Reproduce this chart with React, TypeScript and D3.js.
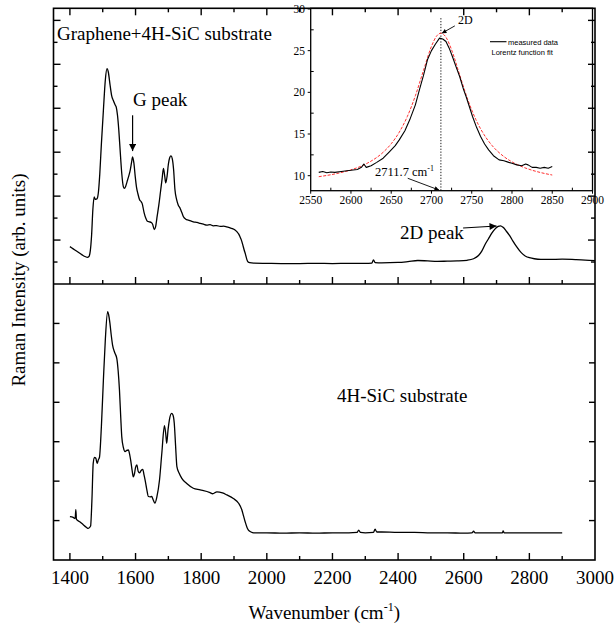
import React from "react";
import * as d3 from "d3";

// ---------- data ----------
// Upper spectrum: Graphene + 4H-SiC substrate
const topWavenumber = [
  1400, 1410, 1420, 1430, 1440, 1448, 1453, 1458, 1462, 1466, 1470, 1474, 1477, 1480, 1483, 1487,
  1491, 1496, 1502, 1508, 1513, 1517, 1522, 1527, 1532, 1538, 1541, 1545, 1549, 1553, 1558, 1563,
  1566, 1570, 1574, 1579, 1584, 1588, 1591, 1595, 1599, 1603, 1607, 1612, 1617, 1620, 1626, 1631,
  1636, 1642, 1648, 1652, 1657, 1661, 1666, 1671, 1676, 1681, 1685, 1689, 1692, 1696, 1700, 1704,
  1708, 1712, 1716, 1720, 1725, 1730, 1736, 1741, 1746, 1753, 1761, 1770, 1776, 1787, 1797, 1807,
  1817, 1827, 1837, 1847, 1858, 1868, 1878, 1888, 1895, 1904, 1910, 1914, 1918, 1922, 1927, 1931,
  1935, 1939, 1943, 1948, 1960, 2000, 2050, 2100, 2150, 2200, 2250, 2300, 2320, 2325, 2330, 2350,
  2400, 2430, 2460, 2490, 2520, 2550, 2580, 2610, 2630, 2645, 2655, 2665, 2675, 2685, 2695, 2705,
  2712, 2720, 2730, 2740, 2750, 2760, 2770, 2780, 2790, 2800, 2815, 2835, 2860, 2900, 2940, 2970,
  3000,
];
const topIntensity = [
  1.7, 1.6, 1.5, 1.4, 1.3, 1.24, 1.21, 1.25, 1.5, 2.2, 3.4, 3.97, 3.85, 3.86, 3.89, 4.2,
  5.0, 6.4, 7.9, 9.3, 9.8, 9.65, 9.1, 8.59, 8.36, 8.15, 8.06, 7.68, 7.0, 6.1, 5.03, 4.42,
  4.35, 4.45, 4.65, 4.9, 5.2, 5.55, 5.79, 5.5, 4.9, 4.4, 4.12, 3.85, 3.75, 3.67, 3.25, 3.0,
  2.86, 2.83, 2.8, 2.72, 2.48, 2.6, 3.1, 3.6, 4.2, 4.8, 5.26, 4.9, 4.6, 4.9, 5.45, 5.75,
  5.83, 5.7, 5.2, 4.3, 3.85, 3.6, 3.44, 3.25, 3.06, 2.95, 2.91, 2.86, 2.83, 2.8, 2.76, 2.72,
  2.68, 2.7, 2.65, 2.66, 2.62, 2.63, 2.6, 2.56, 2.52, 2.45, 2.36, 2.28, 2.16, 2.02, 1.77, 1.55,
  1.35, 1.12, 1.0, 0.97, 0.95, 0.94, 0.93, 0.93, 0.94, 0.93, 0.94, 0.94, 0.95, 1.1, 0.97, 0.96,
  0.98, 1.02, 1.07, 1.05, 1.03, 1.04, 1.05, 1.08, 1.15, 1.3, 1.5, 1.8, 2.05, 2.3, 2.5, 2.62,
  2.65, 2.58, 2.4, 2.2, 1.95, 1.72, 1.52, 1.36, 1.25, 1.2, 1.15, 1.12, 1.12, 1.13, 1.11, 1.09,
  1.06,
];

// Lower spectrum: 4H-SiC substrate
const botWavenumber = [
  1400, 1410, 1416, 1418, 1420, 1430, 1440, 1450, 1456, 1463, 1467, 1471, 1475, 1479, 1483, 1487,
  1490, 1496, 1502, 1508, 1515, 1518, 1522, 1526, 1530, 1537, 1543, 1547, 1551, 1555, 1558, 1563,
  1568, 1573, 1578, 1582, 1585, 1590, 1593, 1597, 1600, 1604, 1608, 1612, 1617, 1622, 1626, 1629,
  1634, 1639, 1645, 1649, 1654, 1659, 1665, 1673, 1680, 1688, 1692, 1695, 1699, 1703, 1710, 1714,
  1718, 1722, 1726, 1733, 1741, 1756, 1776, 1797, 1827, 1835, 1848, 1865, 1878, 1898, 1914, 1924,
  1929, 1934, 1940, 1944, 1952, 1960, 2000, 2050, 2100, 2150, 2200, 2250, 2275, 2280, 2285, 2300,
  2325, 2330, 2335, 2350, 2400, 2450, 2500, 2550, 2600, 2625, 2630, 2635, 2700, 2718, 2720, 2723,
  2800, 2850, 2900,
];
const botIntensity = [
  1.1, 1.08, 1.05, 1.28, 1.03, 0.97, 0.9, 0.83, 0.8, 0.86, 1.5, 2.45, 2.6, 2.58, 2.45, 2.55,
  2.6, 3.4, 4.56, 5.6, 6.3, 6.22, 6.0, 5.7, 5.45, 5.25, 5.11, 4.8, 4.31, 3.6, 3.13, 2.85,
  2.75, 2.78, 2.79, 2.68, 2.54, 2.25, 2.11, 2.2, 2.35, 2.41, 2.25, 2.21, 2.27, 2.3, 2.15, 2.03,
  1.8, 1.61, 1.6, 1.61, 1.52, 1.44, 1.6, 2.03, 2.7, 3.41, 3.2, 2.96, 3.3, 3.55, 3.72, 3.68,
  3.47, 2.9, 2.37, 2.2, 2.07, 1.94, 1.82, 1.78, 1.71, 1.68, 1.73, 1.7, 1.65, 1.56, 1.44, 1.27,
  1.12, 0.97, 0.82, 0.76, 0.71, 0.69, 0.69, 0.68, 0.69, 0.68, 0.69, 0.69, 0.7, 0.76, 0.7, 0.69,
  0.7, 0.78, 0.71, 0.71, 0.7, 0.7, 0.69, 0.69, 0.68, 0.69, 0.73, 0.69, 0.69, 0.69, 0.74, 0.69,
  0.69, 0.69, 0.69,
];

// Inset: measured 2D band
const insetMeasX = [
  2560, 2565, 2570, 2575, 2580, 2588, 2595, 2600, 2608, 2613, 2616, 2619, 2625, 2632, 2640, 2648,
  2655, 2660, 2667, 2673, 2680, 2685, 2690, 2695, 2700, 2705, 2710, 2714, 2718, 2722, 2726, 2730,
  2735, 2740, 2743, 2747, 2751, 2756, 2761, 2766, 2771, 2777, 2784, 2790, 2796, 2800, 2806, 2812,
  2817, 2820, 2825, 2830, 2835, 2840, 2845, 2850,
];
const insetMeasY = [
  10.4, 10.5, 10.35, 10.45, 10.4, 10.5, 10.6, 10.65, 10.75, 11.0, 11.4, 11.0, 11.2, 11.6, 12.1, 12.9,
  13.6, 14.3, 15.4, 16.7, 18.5, 20.3, 22.0, 23.9, 25.0, 25.8, 26.5, 26.4, 26.1, 25.3, 24.3, 23.2,
  21.9, 20.3, 19.5, 18.3, 17.1, 15.8, 14.7, 13.8, 13.1, 12.4, 11.9, 11.8, 11.6, 11.5, 11.3, 11.2,
  11.4, 11.3, 11.0, 11.0, 10.9, 11.0, 10.9, 11.1,
];
// Inset: Lorentz function fit (red dashed)
const insetFitX = [
  2560, 2580, 2600, 2620, 2640, 2650, 2660, 2670, 2680, 2690, 2700, 2706, 2712, 2718, 2725, 2735,
  2745, 2755, 2765, 2775, 2790, 2805, 2820, 2835, 2850,
];
const insetFitY = [
  9.88, 10.21, 10.7, 11.48, 12.81, 13.83, 15.22, 17.1, 19.59, 22.6, 25.52, 26.7, 27.1, 26.61, 25.1, 22.1,
  19.15, 16.76, 14.97, 13.65, 12.29, 11.4, 10.81, 10.39, 10.08,
];

const xTickLabels = [1400, 1600, 1800, 2000, 2200, 2400, 2600, 2800, 3000];
const insetXTickLabels = [2550, 2600, 2650, 2700, 2750, 2800, 2850, 2900];
const insetYTickLabels = [10, 15, 20, 25, 30];
const peakPosition = 2711.7;

// ---------- component ----------
const SERIF = "'Liberation Serif', 'Times New Roman', Times, serif";
const SANS = "'Liberation Sans', Arial, Helvetica, sans-serif";

export default function App() {
  const W = 614;
  const H = 627;
  const L = 53.5, R = 595, T = 8.3, M = 284, B = 560;

  const x = d3.scaleLinear().domain([1350, 3000]).range([L, R]);
  const yTop = d3.scaleLinear().domain([0, 12.55]).range([M, T]);
  const yBot = d3.scaleLinear().domain([0, 7]).range([B, M]);

  // inset frame
  const iL = 310.7, iR = 592.5, iT = 8.3, iB = 190.7;
  const ix = d3.scaleLinear().domain([2550, 2900]).range([iL, iR]);
  const iy = d3.scaleLinear().domain([8.2, 30.08]).range([iB, iT]);

  const topLine = d3
    .line<number>()
    .x((_, i) => x(topWavenumber[i]))
    .y((d) => yTop(d))
    .curve(d3.curveMonotoneX)(topIntensity) as string;
  const botLine = d3
    .line<number>()
    .x((_, i) => x(botWavenumber[i]))
    .y((d) => yBot(d))
    .curve(d3.curveMonotoneX)(botIntensity) as string;
  const measLine = d3
    .line<number>()
    .x((_, i) => ix(insetMeasX[i]))
    .y((d) => iy(d))
    .curve(d3.curveLinear)(insetMeasY) as string;
  const fitLine = d3
    .line<number>()
    .x((_, i) => ix(insetFitX[i]))
    .y((d) => iy(d))
    .curve(d3.curveMonotoneX)(insetFitY) as string;

  const xTicks = d3.range(1400, 3000, 100);
  const topYTicks = d3.range(1, 13);
  const botYTicks = d3.range(1, 7);
  const insetXMinor = d3.range(2575, 2900, 50);
  const insetYMinor = [12.5, 17.5, 22.5, 27.5];

  const tickLen = (major: boolean) => (major ? 7 : 4);

  return (
    <svg
      width={W}
      height={H}
      viewBox={`0 0 ${W} ${H}`}
      style={{ position: "absolute", left: 0, top: 0, background: "#fff" }}
    >
      <defs>
        <marker id="ahBig" viewBox="0 0 10 10" refX="10" refY="5" markerWidth="9" markerHeight="7"
          markerUnits="userSpaceOnUse" orient="auto">
          <path d="M0,0 L10,5 L0,10 z" fill="#000" />
        </marker>
        <marker id="ahSmall" viewBox="0 0 10 10" refX="10" refY="5" markerWidth="6" markerHeight="4.5"
          markerUnits="userSpaceOnUse" orient="auto">
          <path d="M0,0 L10,5 L0,10 z" fill="#000" />
        </marker>
      </defs>
      <rect x={0} y={0} width={W} height={H} fill="#fff" />

      {/* spectra */}
      <path d={topLine} fill="none" stroke="#000" strokeWidth={1.3} strokeLinejoin="round" />
      <path d={botLine} fill="none" stroke="#000" strokeWidth={1.3} strokeLinejoin="round" />

      {/* main frame */}
      <rect x={L} y={T} width={R - L} height={B - T} fill="none" stroke="#000" strokeWidth={1.6} />
      <line x1={L} x2={R} y1={M} y2={M} stroke="#000" strokeWidth={1.6} />

      {/* x ticks: top edge (down), divider (up), bottom (up) */}
      {xTicks.map((v) => {
        const major = (v - 1400) % 200 === 0;
        const len = tickLen(major);
        return (
          <g key={"xt" + v} stroke="#000" strokeWidth={1.4}>
            <line x1={x(v)} x2={x(v)} y1={T} y2={T + len} />
            <line x1={x(v)} x2={x(v)} y1={M} y2={M - len} />
            <line x1={x(v)} x2={x(v)} y1={B} y2={B - len} />
          </g>
        );
      })}

      {/* y ticks upper panel */}
      {topYTicks.map((k) => {
        const len = tickLen(k % 2 === 0);
        const yy = yTop(k);
        return (
          <g key={"ty" + k} stroke="#000" strokeWidth={1.4}>
            <line x1={L} x2={L + len} y1={yy} y2={yy} />
            <line x1={R} x2={R - len} y1={yy} y2={yy} />
          </g>
        );
      })}
      {/* y ticks lower panel */}
      {botYTicks.map((k) => {
        const yy = yBot(k);
        return (
          <g key={"by" + k} stroke="#000" strokeWidth={1.4}>
            <line x1={L} x2={L + 6} y1={yy} y2={yy} />
            <line x1={R} x2={R - 6} y1={yy} y2={yy} />
          </g>
        );
      })}

      {/* x tick labels */}
      {xTickLabels.map((v) => (
        <text key={"xl" + v} x={x(v)} y={584} textAnchor="middle" fontFamily={SERIF} fontSize={19}>
          {v}
        </text>
      ))}

      {/* axis titles */}
      <text x={(L + R) / 2} y={619} textAnchor="middle" fontFamily={SERIF} fontSize={19}>
        Wavenumber (cm
        <tspan fontSize={12} dy={-8}>-1</tspan>
        <tspan dy={8}>)</tspan>
      </text>
      <text
        transform="translate(25,280) rotate(-90)"
        textAnchor="middle"
        fontFamily={SERIF}
        fontSize={19}
      >
        Raman Intensity (arb. units)
      </text>

      {/* panel labels & annotations */}
      <text x={57} y={40} fontFamily={SERIF} fontSize={19}>
        Graphene+4H-SiC substrate
      </text>
      <text x={133} y={106} fontFamily={SERIF} fontSize={19}>
        G peak
      </text>
      <line x1={x(1591)} x2={x(1591)} y1={yTop(7.68)} y2={yTop(6.05)} stroke="#000" strokeWidth={1.2}
        markerEnd="url(#ahBig)" />
      <text x={400} y={239} fontFamily={SERIF} fontSize={19}>
        2D peak
      </text>
      <line x1={x(2598)} y1={yTop(2.55)} x2={x(2700)} y2={yTop(2.64)} stroke="#000" strokeWidth={1.2}
        markerEnd="url(#ahBig)" />
      <text x={337} y={402} fontFamily={SERIF} fontSize={19}>
        4H-SiC substrate
      </text>

      {/* ---------- inset ---------- */}
      <g>
        <line x1={ix(peakPosition)} x2={ix(peakPosition)} y1={iy(28.9)} y2={iB} stroke="#000"
          strokeWidth={0.9} strokeDasharray="1.3,1.6" />
        <path d={fitLine} fill="none" stroke="#ff3030" strokeWidth={1} strokeDasharray="3,1.5" />
        <path d={measLine} fill="none" stroke="#000" strokeWidth={1.1} strokeLinejoin="round" />
        <rect x={iL} y={iT} width={iR - iL} height={iB - iT} fill="none" stroke="#000" strokeWidth={1.3} />

        {insetXTickLabels.map((v) => (
          <g key={"ixt" + v}>
            <line x1={ix(v)} x2={ix(v)} y1={iB} y2={iB + 3} stroke="#000" strokeWidth={1} />
            <text x={ix(v)} y={204} textAnchor="middle" fontFamily={SERIF} fontSize={11.5}>
              {v}
            </text>
          </g>
        ))}
        {insetXMinor.map((v) => (
          <line key={"ixm" + v} x1={ix(v)} x2={ix(v)} y1={iB} y2={iB - 3} stroke="#000" strokeWidth={1} />
        ))}
        {insetYTickLabels.map((v) => (
          <g key={"iyt" + v}>
            <line x1={iL} x2={iL - 3} y1={iy(v)} y2={iy(v)} stroke="#000" strokeWidth={1} />
            <text x={305} y={iy(v)} dy="0.35em" textAnchor="end" fontFamily={SERIF} fontSize={11.5}>
              {v}
            </text>
          </g>
        ))}
        {insetYMinor.map((v) => (
          <line key={"iym" + v} x1={iL} x2={iL + 3} y1={iy(v)} y2={iy(v)} stroke="#000" strokeWidth={1} />
        ))}

        <text x={458} y={24} fontFamily={SERIF} fontSize={12}>
          2D
        </text>
        <line x1={ix(2729)} y1={iy(27.97)} x2={ix(2713)} y2={iy(27.1)} stroke="#000" strokeWidth={0.9}
          markerEnd="url(#ahSmall)" />

        <text x={375} y={176} fontFamily={SERIF} fontSize={12.5}>
          2711.7 cm
          <tspan fontSize={8} dy={-5}>-1</tspan>
        </text>
        <line x1={ix(2670.5)} y1={iy(9.69)} x2={ix(2709.4)} y2={iy(8.28)} stroke="#000" strokeWidth={0.9}
          markerEnd="url(#ahSmall)" />

        <line x1={490} x2={506.5} y1={41.7} y2={41.7} stroke="#000" strokeWidth={1.1} />
        <text x={508} y={44.5} fontFamily={SANS} fontSize={7.5}>
          measured data
        </text>
        <text x={491.5} y={55} fontFamily={SANS} fontSize={7.5}>
          Lorentz function fit
        </text>
      </g>
    </svg>
  );
}
